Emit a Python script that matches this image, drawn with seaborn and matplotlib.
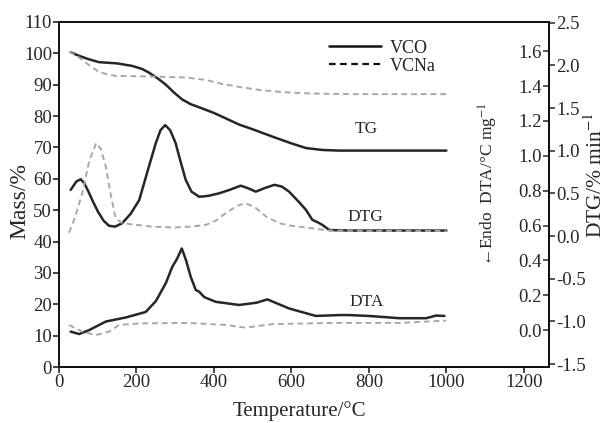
import matplotlib
matplotlib.use('Agg')
import matplotlib.pyplot as plt
import pandas as pd
import seaborn as sns
from matplotlib.lines import Line2D
from matplotlib.ticker import FormatStrFormatter

#%% data
# TG curves (Mass/%)
tg_vco_t = [31, 50, 75, 103, 150, 189, 215, 233, 255, 276, 297, 318, 340, 362, 400, 430, 465,
            500, 550, 600, 638, 680, 723, 1000]
tg_vco = [100.3, 99.3, 98.2, 97.2, 96.8, 96.0, 95.0, 93.8, 92.0, 90.0, 87.5, 85.3, 83.8, 82.8,
          81.0, 79.3, 77.3, 75.8, 73.5, 71.3, 69.8, 69.2, 69.0, 69.0]
tg_vcna_t = [26, 45, 60, 80, 103, 125, 147, 200, 276, 330, 380, 420, 470, 520, 580, 650, 750, 1000]
tg_vcna = [100.5, 99.3, 97.9, 96.0, 94.1, 93.3, 92.8, 92.7, 92.5, 92.3, 91.5, 90.3, 89.2, 88.3,
           87.6, 87.2, 87.0, 87.0]

# DTG curves (%/min)
dtg_vco_t = [30, 45, 56, 65, 75, 86, 100, 115, 129, 145, 163, 185, 207, 228, 250, 262, 274, 287,
             301, 314, 327, 342, 362, 385, 413, 440, 469, 488, 508, 530, 556, 575, 594, 615, 637,
             654, 668, 680, 698, 750, 850, 1000]
dtg_vco = [0.54, 0.64, 0.665, 0.62, 0.53, 0.42, 0.29, 0.18, 0.12, 0.11, 0.15, 0.26, 0.42, 0.75,
           1.09, 1.24, 1.30, 1.24, 1.09, 0.87, 0.66, 0.52, 0.46, 0.47, 0.50, 0.54, 0.59, 0.56,
           0.52, 0.56, 0.60, 0.58, 0.52, 0.42, 0.31, 0.19, 0.16, 0.13, 0.07, 0.064, 0.064, 0.064]
dtg_vcna_t = [26, 40, 60, 78, 96, 108, 121, 133, 146, 160, 181, 240, 293, 340, 379, 405, 431,
              458, 481, 505, 534, 568, 600, 637, 698, 800, 1000]
dtg_vcna = [0.04, 0.20, 0.50, 0.88, 1.09, 1.02, 0.81, 0.50, 0.21, 0.16, 0.14, 0.11, 0.10, 0.11,
            0.13, 0.18, 0.27, 0.35, 0.385, 0.34, 0.23, 0.15, 0.12, 0.10, 0.064, 0.06, 0.06]

# DTA curves (°C/mg)
dta_vco_t = [30, 52, 78, 121, 172, 224, 250, 276, 292, 305, 317, 328, 340, 353, 362, 375, 405,
             465, 510, 538, 594, 663, 723, 749, 800, 879, 948, 973, 995]
dta_vco = [-0.009, -0.023, 0.000, 0.049, 0.072, 0.104, 0.166, 0.270, 0.361, 0.410, 0.468, 0.400,
           0.306, 0.230, 0.220, 0.189, 0.162, 0.144, 0.157, 0.176, 0.124, 0.081, 0.086, 0.086,
           0.081, 0.068, 0.068, 0.083, 0.081]
dta_vcna_t = [26, 60, 95, 129, 155, 207, 336, 431, 482, 551, 706, 879, 999]
dta_vcna = [0.029, -0.009, -0.029, -0.009, 0.029, 0.038, 0.041, 0.029, 0.014, 0.034, 0.041,
            0.041, 0.054]

samples = ['VCO', 'VCNa']
mass_ticks = list(range(0, 111, 10))
temp_ticks = list(range(0, 1201, 200))
dta_ticks = [0.0, 0.2, 0.4, 0.6, 0.8, 1.0, 1.2, 1.4, 1.6]
dtg_ticks = [-1.5, -1.0, -0.5, 0.0, 0.5, 1.0, 1.5, 2.0, 2.5]


def long_df(t1, v1, t2, v2):
    a = pd.DataFrame({'T': t1, 'val': v1, 'sample': samples[0]})
    b = pd.DataFrame({'T': t2, 'val': v2, 'sample': samples[1]})
    return pd.concat([a, b], ignore_index=True)


tg = long_df(tg_vco_t, tg_vco, tg_vcna_t, tg_vcna)
dtg = long_df(dtg_vco_t, dtg_vco, dtg_vcna_t, dtg_vcna)
dta = long_df(dta_vco_t, dta_vco, dta_vcna_t, dta_vcna)

#%% style
sns.set_style('ticks')
plt.rcParams['font.family'] = ['Liberation Serif', 'DejaVu Serif']
plt.rcParams['mathtext.fontset'] = 'stix'

palette = {'VCO': '#262626', 'VCNa': '#a8a8a8'}
dashes = {'VCO': '', 'VCNa': (3, 2)}
sizes = {'VCO': 1.8, 'VCNa': 1.4}

fig, ax = plt.subplots(figsize=(6.14, 4.23), dpi=100)
fig.subplots_adjust(left=59 / 614, right=549 / 614, bottom=1 - 367 / 423, top=1 - 22 / 423)

ax_dtg = ax.twinx()
ax_dta = ax.twinx()


def draw(data, axis):
    sns.lineplot(data=data, x='T', y='val', hue='sample', style='sample', size='sample',
                 palette=palette, dashes=dashes, sizes=sizes, hue_order=samples,
                 estimator=None, sort=False, ax=axis, legend=False)


draw(tg, ax)
draw(dtg, ax_dtg)
draw(dta, ax_dta)

#%% axes
ax.set(xlim=(0, 1265), ylim=(0, 110), xticks=temp_ticks, yticks=mass_ticks)
ax.set_xlabel('Temperature/°C', fontsize=15)
ax.set_ylabel('Mass/%', fontsize=17)
ax.xaxis.set_label_coords(0.49, -0.098)
ax.yaxis.set_label_coords(-0.058, 0.48)
ax.tick_params(labelsize=13.5, length=4, width=1.1, pad=1, color='#111111')

ax_dtg.set(ylim=(-1.535, 2.508), yticks=dtg_ticks)
ax_dtg.yaxis.set_major_formatter(FormatStrFormatter('%.1f'))
ax_dtg.tick_params(axis='y', labelsize=13.5, length=4, width=1.1, pad=1)
ax_dtg.set_ylabel('DTG/% min$^{-1}$', fontsize=15.5)
ax_dtg.yaxis.set_label_coords(1.072, 0.555)

ax_dta.set(ylim=(-0.212, 1.768), yticks=dta_ticks)
ax_dta.spines['left'].set_position(('axes', 1.0))
ax_dta.yaxis.set_ticks_position('left')
ax_dta.yaxis.set_label_position('left')
ax_dta.yaxis.set_major_formatter(FormatStrFormatter('%.1f'))
ax_dta.tick_params(axis='y', labelsize=13.5, length=4, width=1.1, pad=1)
ax_dta.set_ylabel('←Endo  DTA/°C mg$^{-1}$', fontsize=12.5)
ax_dta.yaxis.set_label_coords(0.9, 0.53)
ax_dta.set_xlabel('')
ax_dtg.set_xlabel('')

for a in (ax, ax_dtg, ax_dta):
    for s in a.spines.values():
        s.set_linewidth(1.2)
        s.set_color('#111111')

#%% labels on the curves
ax.text(793, 75.9, 'TG', fontsize=12.5, ha='center', va='center')
ax.text(790, 47.8, 'DTG', fontsize=12.5, ha='center', va='center')
ax.text(793, 20.7, 'DTA', fontsize=12.5, ha='center', va='center')

handles = [Line2D([], [], color='#111111', lw=1.8),
           Line2D([], [], color='#111111', lw=1.6, ls=(0, (3, 2)))]
ax.legend(handles, samples, loc='upper left', bbox_to_anchor=(0.525, 0.985), frameon=False,
          fontsize=13, handlelength=2.9, handletextpad=0.5, labelspacing=0.05, borderpad=0.2)

plt.savefig('out.png', dpi=100)
